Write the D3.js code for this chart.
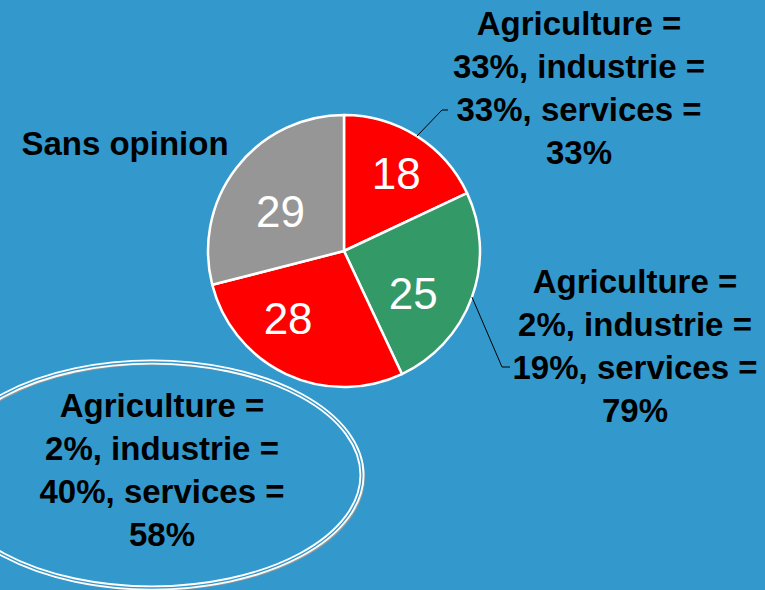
<!DOCTYPE html>
<html>
<head>
<meta charset="UTF-8">
<title>Pie - Sans opinion</title>
<script src="https://cdn.jsdelivr.net/npm/d3@7"></script>
<style>
  html, body { margin: 0; padding: 0; background: #3399cc; }
  svg { display: block; }
  text { font-family: "Liberation Sans", Arial, sans-serif; }
</style>
</head>
<body>
<div id="chart"></div>
<script>

// data
var values = [18, 25, 28, 29]
var sliceColors = ["#ff0000", "#339966", "#ff0000", "#969696"]
var labelLines = [
  ["Agriculture =", "33%, industrie =", "33%, services =", "33%"],
  ["Agriculture =", "2%, industrie =", "19%, services =", "79%"],
  ["Agriculture =", "2%, industrie =", "40%, services =", "58%"],
  ["Sans opinion"]
]

// layout
var width = 765, height = 590
var cx = 344, cy = 251, radius = 136
var lineGap = 43
// where each category label block sits (centre x, first baseline)
var labelAt = [[579, 35], [635, 293], [162, 417], [125, 155]]
// leader line elbows (null = no leader)
var elbows = [[442, 110, 448], [502, 367, 510], null, null]
// small nudges on the number labels, like the office tool's "best fit"
var numNudge = [[7, -7], [-10, 14], [-20, -9], [3, 12]]

var svg = d3.select("#chart").append("svg")
  .attr("width", width)
  .attr("height", height)

svg.append("rect")
  .attr("width", width).attr("height", height)
  .attr("fill", "#3399cc")

// the callout ellipse, bottom left (shadow, white double line)
var ell = svg.append("g").attr("class", "callout")
ell.append("ellipse")
  .attr("cx", 154).attr("cy", 477).attr("rx", 210).attr("ry", 113)
  .attr("fill", "none").attr("stroke", "#9a9a9a").attr("stroke-width", 2)
ell.append("ellipse")
  .attr("cx", 152).attr("cy", 475).attr("rx", 210).attr("ry", 113)
  .attr("fill", "none").attr("stroke", "#ffffff").attr("stroke-width", 5)
ell.append("ellipse")
  .attr("cx", 152).attr("cy", 475).attr("rx", 210).attr("ry", 113)
  .attr("fill", "none").attr("stroke", "#3399cc").attr("stroke-width", 1.3)

var pie = d3.pie().sort(null).value(function(d) { return d; })
var arcs = pie(values)

var arc = d3.arc().innerRadius(0).outerRadius(radius)
var labelArc = d3.arc().innerRadius(radius * 0.62).outerRadius(radius * 0.62)
var edgeArc = d3.arc().innerRadius(radius).outerRadius(radius)

var g = svg.append("g").attr("transform", "translate(" + cx + "," + cy + ")")

g.selectAll("path.slice")
  .data(arcs).enter()
  .append("path")
  .attr("class", "slice")
  .attr("d", arc)
  .attr("fill", function(d, i) { return sliceColors[i]; })
  .attr("stroke", "#ffffff")
  .attr("stroke-width", 2.5)
  .attr("stroke-linejoin", "round")

g.selectAll("text.num")
  .data(arcs).enter()
  .append("text")
  .attr("class", "num")
  .attr("x", function(d, i) { return labelArc.centroid(d)[0] + numNudge[i][0]; })
  .attr("y", function(d, i) { return labelArc.centroid(d)[1] + numNudge[i][1]; })
  .attr("dy", "0.36em")
  .attr("text-anchor", "middle")
  .attr("font-size", 44)
  .attr("fill", "#ffffff")
  .text(function(d) { return d.value; })

// leader lines
arcs.forEach(function(d, i) {
  if (!elbows[i]) return
  var p = edgeArc.centroid(d)
  var e = elbows[i]
  svg.append("polyline")
    .attr("points", [[cx + p[0], cy + p[1]], [e[0], e[1]], [e[2], e[1]]].join(" "))
    .attr("fill", "none")
    .attr("stroke", "#000000")
    .attr("stroke-width", 1)
})

// category labels
labelLines.forEach(function(lines, i) {
  var t = svg.append("text")
    .attr("text-anchor", "middle")
    .attr("font-size", 33)
    .attr("font-weight", "bold")
    .attr("fill", "#000000")
  lines.forEach(function(s, j) {
    t.append("tspan")
      .attr("x", labelAt[i][0])
      .attr("y", labelAt[i][1] + j * lineGap)
      .text(s)
  })
})

</script>
</body>
</html>
